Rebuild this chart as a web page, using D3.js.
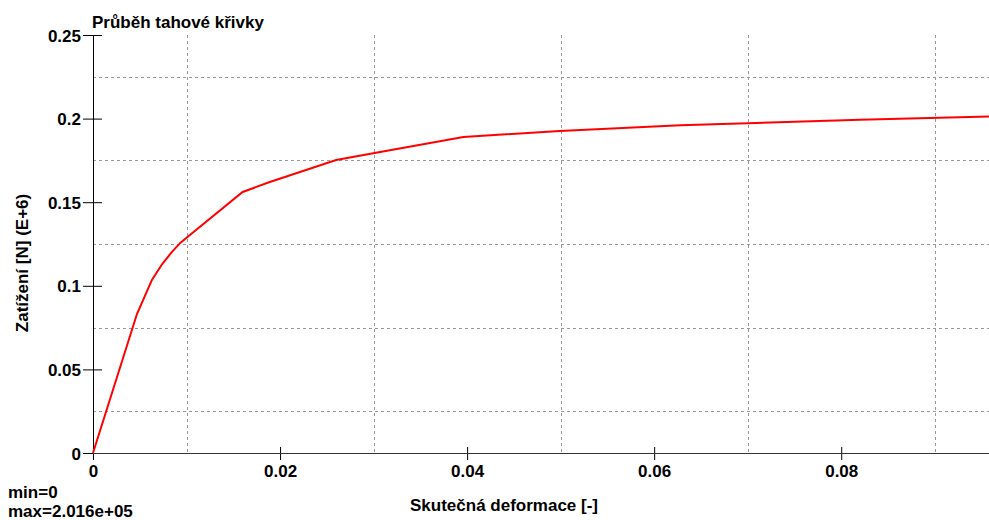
<!DOCTYPE html>
<html>
<head>
<meta charset="utf-8">
<script src="https://cdn.jsdelivr.net/npm/d3@7"></script>
<style>
  body { margin: 0; background: #fff; }
  svg { display: block; }
  text { font-family: "Liberation Sans", Arial, sans-serif; font-weight: bold; font-size: 17px; fill: #000; }
  .grid line { stroke: #999; stroke-dasharray: 3,3; shape-rendering: crispEdges; }
</style>
</head>
<body>
<script>
// strain [-] vs load [N] (E+6)
var strain = [0, 0.0047, 0.0063, 0.0074, 0.0084, 0.0093, 0.0101, 0.0160, 0.0189, 0.0260, 0.0307, 0.0396, 0.0499, 0.0628, 0.0724, 0.0820, 0.0958];
var load   = [0, 0.0831, 0.1035, 0.1130, 0.1200, 0.1255, 0.1292, 0.1561, 0.1621, 0.1752, 0.1800, 0.1890, 0.1926, 0.1960, 0.1976, 0.1993, 0.2012];

var xTicks = [0, 0.02, 0.04, 0.06, 0.08];
var yTicks = [0, 0.05, 0.1, 0.15, 0.2, 0.25];
var xGrid = [0.01, 0.03, 0.05, 0.07, 0.09];
var yGrid = [0.025, 0.075, 0.125, 0.175, 0.225];

var title = "Průběh tahové křivky";
var xTitle = "Skutečná deformace [-]";
var yTitle = "Zatížení [N] (E+6)";
var minLabel = "min=0";
var maxLabel = "max=2.016e+05";

var svg_width = 989, svg_height = 520;
var margin = {top: 35, right: 0, bottom: 67, left: 93};
var width = svg_width - margin.left - margin.right,
    height = svg_height - margin.top - margin.bottom;

var svg = d3.select("body").append("svg")
    .attr("width", svg_width)
    .attr("height", svg_height);

var g = svg.append("g")
    .attr("transform", "translate(" + margin.left + "," + margin.top + ")");

var x = d3.scaleLinear().domain([0, 0.0958]).range([0, width]);
var y = d3.scaleLinear().domain([0, 0.25]).range([height, 0]);

// dashed grid
var grid = g.append("g").attr("class", "grid");
grid.selectAll(".vg").data(xGrid).enter().append("line")
    .attr("x1", function(d) { return Math.round(x(d)) + 0.5; })
    .attr("x2", function(d) { return Math.round(x(d)) + 0.5; })
    .attr("y1", 0).attr("y2", height);
grid.selectAll(".hg").data(yGrid).enter().append("line")
    .attr("y1", function(d) { return Math.round(y(d)) + 0.5; })
    .attr("y2", function(d) { return Math.round(y(d)) + 0.5; })
    .attr("x1", 0).attr("x2", width);

// axes
var yAxis = g.append("g")
    .call(d3.axisLeft(y).tickValues(yTicks).tickSize(10).tickPadding(2).tickFormat(function(d) { return String(d); }));
yAxis.select(".domain").remove();
yAxis.selectAll(".tick line").attr("x1", 9).attr("x2", -10).attr("stroke", "#000");
yAxis.selectAll("text").attr("font-size", null).attr("font-family", null).attr("dy", "0.36em");

var xAxis = g.append("g")
    .attr("transform", "translate(0," + height + ")")
    .call(d3.axisBottom(x).tickValues(xTicks).tickSize(7).tickPadding(5).tickFormat(function(d) { return String(d); }));
xAxis.select(".domain").remove();
xAxis.selectAll(".tick line").attr("y1", -6).attr("y2", 7).attr("stroke", "#000");
xAxis.selectAll("text").attr("font-size", null).attr("font-family", null);

g.append("line")
    .attr("x1", 0.5).attr("x2", 0.5).attr("y1", 0).attr("y2", height + 7)
    .attr("stroke", "#000");
g.append("line")
    .attr("x1", 0).attr("x2", width).attr("y1", height + 0.5).attr("y2", height + 0.5)
    .attr("stroke", "#333");

// the curve
var line = d3.line()
    .x(function(d, i) { return x(strain[i]); })
    .y(function(d) { return y(d); });

g.append("path")
    .datum(load)
    .attr("fill", "none")
    .attr("stroke", "#ff0000")
    .attr("stroke-width", 2)
    .attr("d", line);

// texts
svg.append("text").attr("x", 92).attr("y", 28).text(title);

svg.append("text")
    .attr("text-anchor", "middle")
    .attr("transform", "translate(28,263)rotate(-90)")
    .text(yTitle);

svg.append("text")
    .attr("text-anchor", "middle")
    .attr("x", 504).attr("y", 511)
    .text(xTitle);

svg.append("text").attr("x", 8).attr("y", 498).text(minLabel);
svg.append("text").attr("x", 8).attr("y", 517).text(maxLabel);
</script>
</body>
</html>
